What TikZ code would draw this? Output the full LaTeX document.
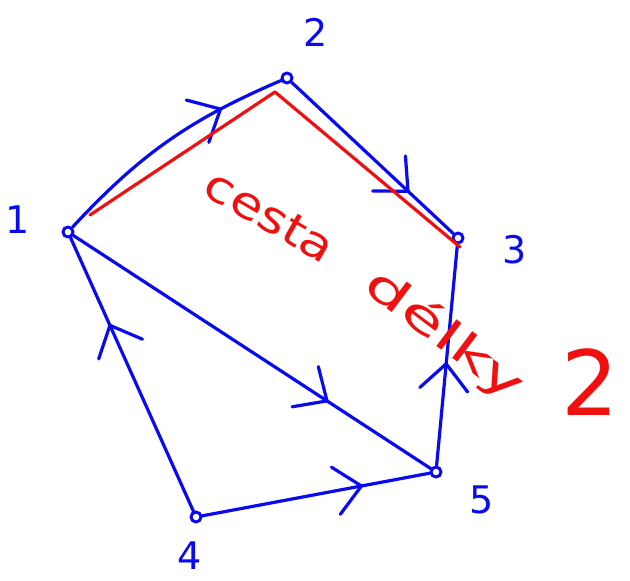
\documentclass[tikz,border=0pt]{standalone}
\usepackage{fontspec}
\setmainfont{DejaVu Sans}
\usetikzlibrary{arrows.meta,positioning,decorations.markings}
\definecolor{penBlue}{HTML}{0A0AF0}
\definecolor{penRed}{HTML}{F01010}

\begin{document}
\begin{tikzpicture}[x=1pt,y=-1pt,>=Latex,line cap=round,line join=round]
\useasboundingbox[fill=white] (0,0) rectangle (630,581);
\tikzset{vertex/.style={circle,draw=penBlue,line width=3pt,inner sep=0pt,minimum size=10pt},
  edge/.style={draw=penBlue,line width=3.2pt},
  midarrow/.style={postaction={decorate},decoration={markings,mark=at position #1 with {\draw[edge] (-26pt,-24pt) -- (0pt,0pt) -- (-26pt,24pt);}}},
  vlabel/.style={text=penBlue,font=\fontsize{38}{42}\selectfont},
  redtext/.style={text=penRed,font=\fontsize{44}{50}\selectfont}}
% vertices
\node[vertex] (v1) at (68,232) {};
\node[vertex] (v2) at (287,78) {};
\node[vertex] (v3) at (458,238) {};
\node[vertex] (v4) at (196,517) {};
\node[vertex] (v5) at (436,472) {};
\node[vlabel] at (18,220) {1};
\node[vlabel] at (316,32) {2};
\node[vlabel] at (515,250) {3};
\node[vlabel] at (190,556) {4};
\node[vlabel] at (482,500) {5};
% directed edges
\draw[edge,midarrow=0.74] (v1) to[bend left=12] (v2);
\draw[edge,midarrow=0.72] (v2) -- (v3);
\draw[edge,midarrow=0.71] (v1) -- (v5);
\draw[edge,midarrow=0.46] (v5) -- (v3);
\draw[edge,midarrow=0.70] (v4) -- (v5);
\draw[edge,midarrow=0.68] (v4) -- (v1);
% path of length 2
\coordinate (p1) at (90,215);
\coordinate (p2) at (275,92);
\coordinate (p3) at (460,247);
\draw[penRed,line width=3.2pt] (p1) -- (p2) -- (p3);
\node[redtext,rotate=-30] at (270,216) {\scalebox{1.2}[1]{cesta}};
\node[redtext,rotate=-37] at (444,336) {\scalebox{1.6}[1]{délky}};
\node[text=penRed,font=\fontsize{90}{96}\selectfont] at (590,382) {2};
\end{tikzpicture}
\end{document}
